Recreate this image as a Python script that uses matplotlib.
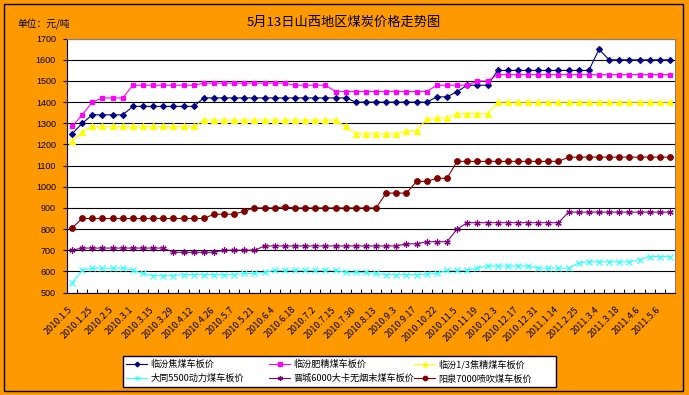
import matplotlib
matplotlib.use("Agg")
import matplotlib.pyplot as plt
import matplotlib.transforms as mtransforms
from matplotlib.patches import Rectangle
import numpy as np

plt.rcParams['font.family'] = ['Noto Sans CJK SC', 'DejaVu Sans']

date_labels = ['2010.1.5', '2010.1.25', '2010.2.5', '2010.3.1', '2010.3.15', '2010.3.29',
               '2010.4.12', '2010.4.26', '2010.5.7', '2010.5.21', '2010.6.4', '2010.6.18',
               '2010.7.2', '2010.7.15', '2010.7.30', '2010.8.13', '2010.9.3', '2010.9.17',
               '2010.10.22', '2010.11.5', '2010.11.19', '2010.12.3', '2010.12.17', '2010.12.31',
               '2011.1.14', '2011.2.25', '2011.3.4', '2011.3.18', '2011.4.6', '2011.5.6']

series_names = ['临汾焦煤车板价', '临汾肥精煤车板价', '临汾1/3焦精煤车板价',
                '大同5500动力煤车板价', '晋城6000大卡无烟末煤车板价', '阳泉7000喷吹煤车板价']

linfen_coking = [1250, 1300, 1340, 1340, 1340, 1340, 1380, 1380, 1380, 1380,
                 1380, 1380, 1380, 1420, 1420, 1420, 1420, 1420, 1420, 1420,
                 1420, 1420, 1420, 1420, 1420, 1420, 1420, 1420, 1400, 1400,
                 1400, 1400, 1400, 1400, 1400, 1400, 1425, 1425, 1450, 1480,
                 1480, 1480, 1550, 1550, 1550, 1550, 1550, 1550, 1550, 1550,
                 1550, 1550, 1650, 1600, 1600, 1600, 1600, 1600, 1600, 1600]

linfen_fat = [1285, 1340, 1400, 1420, 1420, 1420, 1480, 1480, 1480, 1480,
              1480, 1480, 1480, 1490, 1490, 1490, 1490, 1490, 1490, 1490,
              1490, 1490, 1480, 1480, 1480, 1480, 1450, 1450, 1450, 1450,
              1450, 1450, 1450, 1450, 1450, 1450, 1480, 1480, 1480, 1480,
              1500, 1500, 1530, 1530, 1530, 1530, 1530, 1530, 1530, 1530,
              1530, 1530, 1530, 1530, 1530, 1530, 1530, 1530, 1530, 1530]

linfen_third = [1215, 1260, 1285, 1285, 1285, 1285, 1285, 1285, 1285, 1285,
                1285, 1285, 1285, 1315, 1315, 1315, 1315, 1315, 1315, 1315,
                1315, 1315, 1315, 1315, 1315, 1315, 1315, 1285, 1250, 1250,
                1250, 1250, 1250, 1265, 1265, 1320, 1325, 1325, 1345, 1345,
                1345, 1345, 1400, 1400, 1400, 1400, 1400, 1400, 1400, 1400,
                1400, 1400, 1400, 1400, 1400, 1400, 1400, 1400, 1400, 1400]

datong_5500 = [545, 605, 615, 615, 615, 615, 605, 590, 580, 580,
               580, 585, 585, 585, 585, 585, 585, 590, 590, 595,
               605, 605, 605, 605, 605, 605, 605, 595, 595, 595,
               590, 585, 585, 585, 585, 587, 590, 605, 605, 605,
               615, 625, 625, 625, 625, 625, 615, 615, 615, 615,
               640, 645, 645, 645, 645, 645, 655, 670, 670, 670]

jincheng_6000 = [700, 710, 710, 710, 710, 710, 710, 710, 710, 710,
                 690, 690, 690, 690, 690, 700, 700, 700, 700, 720,
                 720, 720, 720, 720, 720, 720, 720, 720, 720, 720,
                 720, 720, 720, 730, 730, 740, 740, 740, 800, 830,
                 830, 830, 830, 830, 830, 830, 830, 830, 830, 880,
                 880, 880, 880, 880, 880, 880, 880, 880, 880, 880]

yangquan_7000 = [805, 850, 850, 850, 850, 850, 850, 850, 850, 850,
                 850, 850, 850, 850, 870, 870, 870, 885, 900, 900,
                 900, 905, 900, 900, 900, 900, 900, 900, 900, 900,
                 900, 970, 970, 970, 1025, 1025, 1040, 1040, 1120, 1120,
                 1120, 1120, 1120, 1120, 1120, 1120, 1120, 1120, 1120, 1140,
                 1140, 1140, 1140, 1140, 1140, 1140, 1140, 1140, 1140, 1140]

all_series = [linfen_coking, linfen_fat, linfen_third, datong_5500, jincheng_6000, yangquan_7000]
colors = ['#000080', '#FF00FF', '#FFFF00', '#33FFFF', '#800080', '#800000']
markers = ['D', 's', '^', 'x', (6, 2, 0), 'o']
msizes = [3, 3.5, 4, 4, 4.5, 4]

W, H = 689, 395
fig = plt.figure(figsize=(W / 100, H / 100), dpi=100, facecolor='#FF9900')
ax = fig.add_axes([67 / W, 1 - 292.5 / H, 608 / W, 253.8 / H])
ax.set_facecolor('white')

x = np.arange(len(linfen_coking))
handles = []
for vals, name, c, m, ms in zip(all_series, series_names, colors, markers, msizes):
    h, = ax.plot(x, vals, color=c, lw=0.8, marker=m, markersize=ms,
                 markerfacecolor=c, markeredgecolor=c, markeredgewidth=0.9, label=name, zorder=3)
    handles.append(h)

ax.set_xlim(-0.5, len(x) - 0.5)
ax.set_ylim(500, 1700)
ax.set_yticks(np.arange(500, 1701, 100))
ax.yaxis.grid(True, color='black', lw=0.8)
ax.set_axisbelow(True)
ax.tick_params(axis='y', direction='out', length=3, width=0.8, pad=5, labelsize=6.5, colors='black')
for lab in ax.get_yticklabels():
    lab.set_fontfamily(['Liberation Sans', 'DejaVu Sans'])

ax.set_xticks(x[::2])
ax.set_xticklabels(date_labels, rotation=45, ha='right', va='top', rotation_mode='anchor',
                   fontsize=6.5)
ax.tick_params(axis='x', length=0, pad=9)
ax.set_xticks(np.arange(-0.5, len(x), 1), minor=True)
ax.tick_params(axis='x', which='minor', direction='in', length=3, width=0.7)
shift = mtransforms.ScaledTranslation(-4 / 100, 0, fig.dpi_scale_trans)
for lab in ax.get_xticklabels():
    lab.set_transform(lab.get_transform() + shift)

for s in ['top', 'right']:
    ax.spines[s].set_color('#808080')
for s in ['left', 'bottom']:
    ax.spines[s].set_color('black')
for s in ax.spines.values():
    s.set_linewidth(0.8)

fig.text(344 / W, 1 - 22 / H, '5月13日山西地区煤炭价格走势图', ha='center', va='center', fontsize=9.5)
fig.text(17 / W, 1 - 24 / H, '单位：元/吨', ha='left', va='center', fontsize=7)

# legend: three single-column legends inside one framed box
fig.patches.append(Rectangle((123 / W, 1 - 387 / H), 433 / W, 31 / H, transform=fig.transFigure,
                             facecolor='white', edgecolor='black', lw=1, zorder=1))
col_x = [126, 269, 414]
for k, cx in enumerate(col_x):
    pair = [k, k + 3]
    leg = fig.legend([handles[i] for i in pair], [series_names[i] for i in pair], ncol=1,
                     loc='upper left', bbox_to_anchor=(cx / W, 1 - 359.5 / H), borderaxespad=0,
                     borderpad=0, fontsize=6.6, frameon=False, handlelength=2.3, markerscale=0.8,
                     handletextpad=0.35, labelspacing=0.55)
    leg.set_zorder(2)

fig.patches.append(Rectangle((4 / W, 1 - 391 / H), 679 / W, 387 / H, transform=fig.transFigure,
                             fill=False, edgecolor='black', lw=1))

fig.savefig('out.png', dpi=100, facecolor=fig.get_facecolor())
